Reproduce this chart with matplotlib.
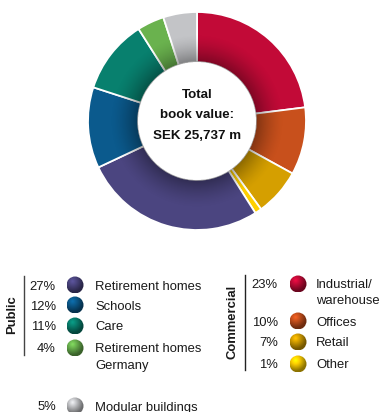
import numpy as np
import matplotlib.pyplot as plt
from matplotlib.patches import Circle, Wedge

plt.rcParams['font.family'] = ['Liberation Sans', 'DejaVu Sans']

# Segments, clockwise from 12 o'clock
segments = ["Industrial/\nwarehouse", "Offices", "Retail", "Other",
            "Retirement homes", "Schools", "Care",
            "Retirement homes\nGermany", "Modular buildings"]
shares = [23, 10, 7, 1, 27, 12, 11, 4, 5]
colors = ["#C20A37", "#C8501C", "#D59F00", "#FFD000",
          "#4B4580", "#0B5A8D", "#08806E", "#6AB24E", "#C3C4C7"]
center_lines = ["Total", "book value:", "SEK 25,737 m"]

public_idx = [4, 5, 6, 7]
commercial_idx = [0, 1, 2, 3]
other_idx = [8]

W, H = 382, 412
fig = plt.figure(figsize=(W / 100, H / 100), dpi=100, facecolor="white")

# pixel-coordinate canvas for the legend
canvas = fig.add_axes([0, 0, 1, 1])
canvas.set_xlim(0, W)
canvas.set_ylim(H, 0)
canvas.axis("off")

# donut
cx, cy, R = 197, 121, 109
pie_ax = fig.add_axes([(cx - R) / W, (H - cy - R) / H, 2 * R / W, 2 * R / H])
wedges, _ = pie_ax.pie(shares, colors=colors, startangle=90, counterclock=False,
                       radius=1, wedgeprops=dict(width=0.46, edgecolor="white",
                                                 linewidth=1.3))
pie_ax.set_xlim(-1, 1)
pie_ax.set_ylim(-1, 1)
pie_ax.set_aspect("equal")

# soft shadow along the inner edge of the ring
n = 400
xs = np.linspace(-1, 1, n)
xx, yy = np.meshgrid(xs, xs)
rr = np.hypot(xx, yy)
shade = np.zeros((n, n, 4))
a = np.clip((0.8 - rr) / (0.8 - 0.54), 0, 1) ** 1.5 * 0.36
a[rr < 0.54] = 0
shade[..., 3] = a
img = pie_ax.imshow(shade, extent=(-1, 1, -1, 1), origin="lower", zorder=3)
img.set_clip_path(Wedge((0, 0), 1, 0, 360, width=0.46, transform=pie_ax.transData))

for line, py in zip(center_lines, [95, 115, 136]):
    pie_ax.text(0, (cy - py) / R, line, ha="center", va="center",
                fontsize=9.6, fontweight="bold", color="#111111", zorder=4)


def ball(x, y, r, color):
    # shaded legend marker
    n = 60
    g = np.linspace(-1, 1, n)
    gx, gy = np.meshgrid(g, g)
    d = np.hypot(gx + 0.35, gy + 0.4)
    base = np.array(plt.matplotlib.colors.to_rgb(color))
    k = np.clip(1.25 - 0.55 * d, 0.55, 1.25)[..., None]
    rgb = np.clip(base * k, 0, 1)
    im = canvas.imshow(rgb, extent=(x - r, x + r, y + r, y - r), zorder=3,
                       interpolation="bilinear")
    im.set_clip_path(Circle((x, y), r, transform=canvas.transData))


FS = 9.4
TXT = "#1a1a1a"


def group(items, ys, pct_x, ball_x, text_x):
    for i, y in zip(items, ys):
        canvas.text(pct_x, y + 4.5, f"{shares[i]}%", ha="right", va="baseline",
                    fontsize=FS, color=TXT)
        ball(ball_x, y, 8.5, colors[i])
        canvas.text(text_x, y + 4.5, segments[i].split("\n")[0], ha="left",
                    va="baseline", fontsize=FS, color=TXT)
        if "\n" in segments[i]:
            canvas.text(text_x, y + 20.5, segments[i].split("\n")[1], ha="left",
                        va="baseline", fontsize=FS, color=TXT)


group(public_idx, [285, 305, 326, 348], 56, 75, 95)
group(other_idx, [406], 56, 75, 95)
group(commercial_idx, [284, 321, 342, 364], 278, 298, 316)

canvas.plot([24, 24], [276, 355], color="#444444", lw=1)
canvas.text(12, 315, "Public", rotation=90, ha="center", va="center",
            fontsize=FS, fontweight="bold", color=TXT)
canvas.plot([245, 245], [275, 370], color="#222222", lw=1)
canvas.text(233, 322, "Commercial", rotation=90, ha="center", va="center",
            fontsize=FS, fontweight="bold", color=TXT)

fig.savefig("out.png", dpi=100, facecolor="white")
